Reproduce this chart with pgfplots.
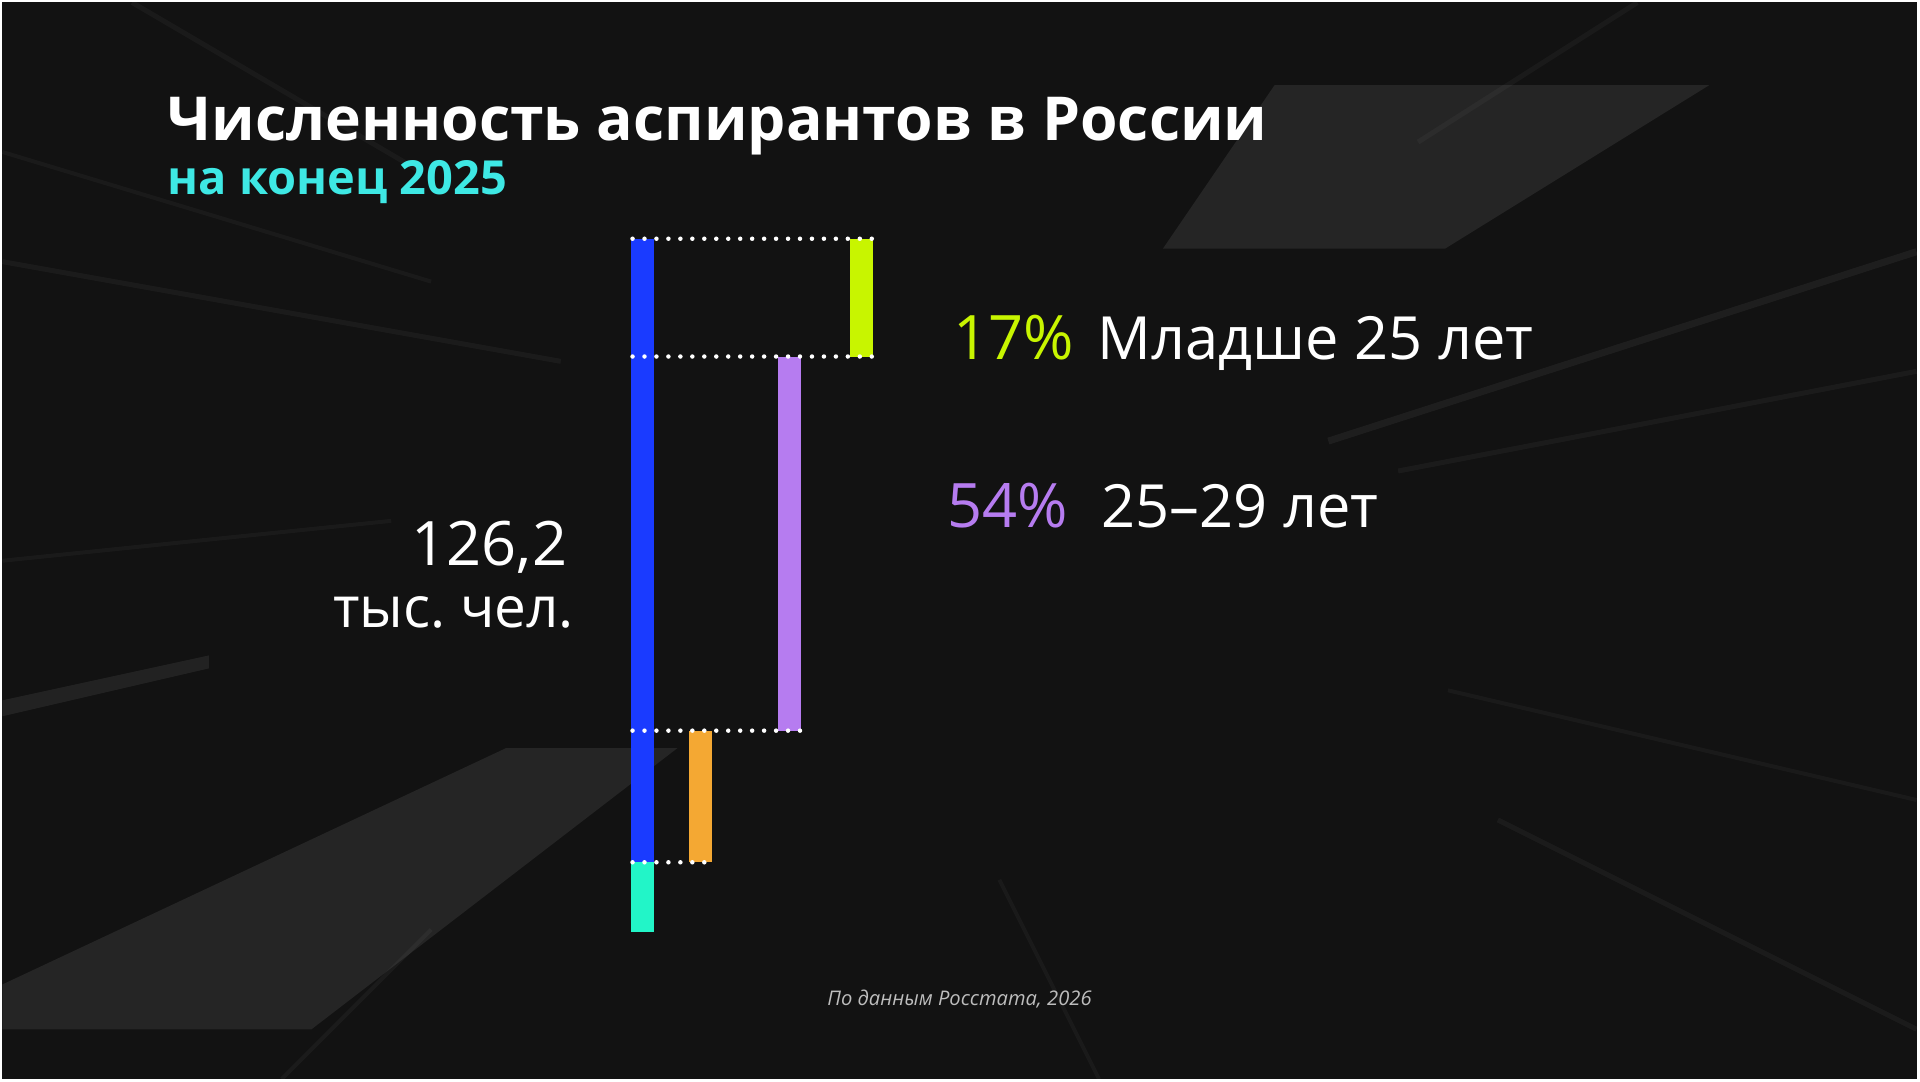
\documentclass[border=0pt]{standalone}
\usepackage{pgfplots}
\pgfplotsset{compat=1.18}
\usepackage{fontspec}
\setmainfont{Open Sans}
\frenchspacing
\definecolor{bg}{HTML}{121212}
\definecolor{bgshape}{HTML}{252525}
\definecolor{cblue}{HTML}{1A3BFF}
\definecolor{clime}{HTML}{C8F500}
\definecolor{cpurple}{HTML}{B67CF0}
\definecolor{corange}{HTML}{F4A833}
\definecolor{caqua}{HTML}{22F5C8}
\definecolor{csub}{HTML}{3EE8E4}
\definecolor{cfoot}{HTML}{BDBDBD}
\begin{document}
\begin{tikzpicture}
% background (pixel frame: x right, y down, 1 px = 0.1 mm)
\fill[bg] (0,0) rectangle (192mm,108mm);
\begin{scope}[x=0.1mm,y=-0.1mm,shift={(0mm,108mm)}]
  \fill[bgshape] (1276,83) -- (1712,83) -- (1447,247) -- (1164,247) -- cycle;
  \fill[bgshape] (505,748) -- (677,748) -- (310,1030) -- (0,1030) -- (0,985) -- cycle;
  \fill[white,opacity=0.07] (0,700) -- (207,655) -- (207,668) -- (0,716) -- cycle;
  \draw[white,opacity=0.04,line width=0.5mm] (0,260) -- (560,360);
  \draw[white,opacity=0.035,line width=0.4mm] (0,150) -- (430,280);
  \draw[white,opacity=0.05,line width=0.7mm] (1920,250) -- (1330,440);
  \draw[white,opacity=0.04,line width=0.5mm] (1920,370) -- (1400,470);
  \draw[white,opacity=0.035,line width=0.4mm] (1920,800) -- (1450,690);
  \draw[white,opacity=0.04,line width=0.5mm] (1920,1030) -- (1500,820);
  \draw[white,opacity=0.035,line width=0.4mm] (1100,1080) -- (1000,880);
  \draw[white,opacity=0.04,line width=0.4mm] (280,1080) -- (430,930);
  \draw[white,opacity=0.035,line width=0.4mm] (0,560) -- (390,520);
  \draw[white,opacity=0.035,line width=0.5mm] (1640,0) -- (1420,140);
  \draw[white,opacity=0.035,line width=0.5mm] (130,0) -- (420,170);
\end{scope}
\begin{axis}[
  at={(0,0)}, anchor=south west,
  scale only axis, width=192mm, height=108mm,
  xmin=0, xmax=1920, ymin=-21.295, ymax=134.10,
  axis lines=none, ticks=none, clip=false,
]
% total (blue) and shares, % of 126.2 thousand
\addplot[cblue, line width=2.3mm] coordinates {(642,0) (642,100)};
\addplot[caqua, line width=2.3mm] coordinates {(642,0) (642,10)};
\addplot[corange, line width=2.3mm] coordinates {(700,10) (700,29)};
\addplot[cpurple, line width=2.3mm] coordinates {(789,29) (789,83)};
\addplot[clime, line width=2.3mm] coordinates {(862,83) (862,100)};
% dotted guides
\addplot[white, line width=0.45mm, line cap=round, dash pattern=on 0pt off 1.2mm] coordinates {(632,100) (873,100)};
\addplot[white, line width=0.45mm, line cap=round, dash pattern=on 0pt off 1.2mm] coordinates {(632,83) (873,83)};
\addplot[white, line width=0.45mm, line cap=round, dash pattern=on 0pt off 1.2mm] coordinates {(632,29) (800,29)};
\addplot[white, line width=0.45mm, line cap=round, dash pattern=on 0pt off 1.2mm] coordinates {(632,10) (712,10)};
\end{axis}
\begin{scope}[x=0.1mm,y=-0.1mm,shift={(0mm,108mm)}]
  \node[anchor=base west, inner sep=0, text=white, font=\fontsize{17.3pt}{18pt}\selectfont\bfseries] at (165,138) {Численность аспирантов в России};
  \node[anchor=base west, inner sep=0, text=csub, font=\fontsize{13.4pt}{14pt}\selectfont\bfseries] at (165,193) {на конец 2025};
  \node[anchor=base west, inner sep=0, text=clime, font=\fontsize{17.5pt}{20pt}\selectfont] at (953,358) {17\%};
  \node[anchor=base west, inner sep=0, text=white, font=\fontsize{17pt}{20pt}\selectfont] at (1098,358) {Младше 25 лет};
  \node[anchor=base west, inner sep=0, text=cpurple, font=\fontsize{17.5pt}{20pt}\selectfont] at (947,527) {54\%};
  \node[anchor=base west, inner sep=0, text=white, font=\fontsize{17pt}{20pt}\selectfont] at (1102,527) {25–29 лет};
  \node[anchor=base east, inner sep=0, text=white, font=\fontsize{17.5pt}{20pt}\selectfont] at (567,565) {126,2};
  \node[anchor=base east, inner sep=0, text=white, font=\fontsize{16.2pt}{20pt}\selectfont] at (574,627) {тыс. чел.};
  \node[anchor=base, inner sep=0, text=cfoot, font=\fontsize{5.75pt}{6pt}\selectfont\itshape] at (960,1006) {По данным Росстата, 2026};
\end{scope}
\end{tikzpicture}
\end{document}
